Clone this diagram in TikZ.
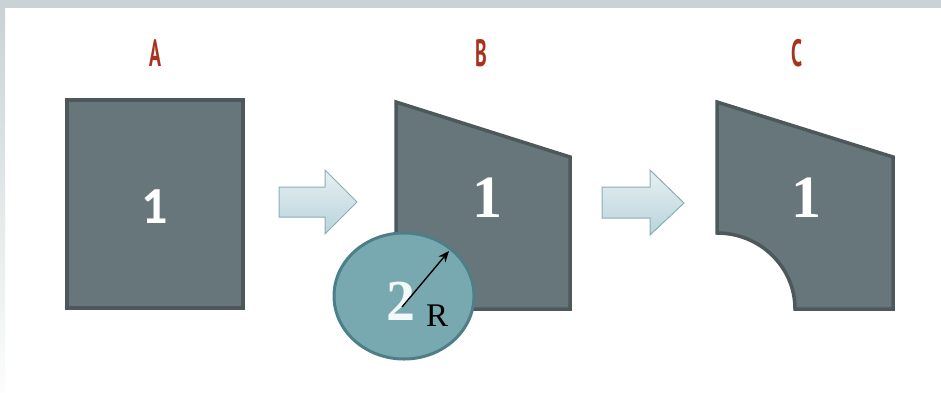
\documentclass[tikz,border=0pt]{standalone}
\usepackage{fontspec}
\setmainfont{Liberation Serif}
\newfontfamily\labfont{PT Sans}
\newfontfamily\numsans{Carlito}
\usetikzlibrary{shapes.geometric,arrows.meta}
\definecolor{bandgrey}{HTML}{C9D3D5}
\definecolor{labred}{HTML}{A8321E}
\definecolor{partfill}{HTML}{67767A}
\definecolor{partline}{HTML}{4D585B}
\definecolor{toolfill}{HTML}{79A9B0}
\definecolor{toolline}{HTML}{4E7E86}
\definecolor{arrtop}{HTML}{E6F0F3}
\definecolor{arrbot}{HTML}{B9D3DB}
\definecolor{arrline}{HTML}{8DADB5}
\tikzset{
  part/.style={fill=partfill, draw=partline, line width=3.5pt, line join=miter},
  tool/.style={ellipse, fill=toolfill, draw=toolline, line width=3pt, minimum width=140pt, minimum height=126pt, inner sep=0pt},
  blockarrow/.style={top color=arrtop, bottom color=arrbot, draw=arrline, line width=1pt},
  steplabel/.style={text=labred, font=\labfont\bfseries\fontsize{38}{38}\selectfont, xscale=0.52, inner sep=0pt},
  numlab/.style={text=white, inner sep=0pt},
}
\begin{document}
\begin{tikzpicture}[x=1pt,y=-1pt]
\useasboundingbox (0,0) rectangle (941,392);
\fill[white] (0,0) rectangle (941,392);
\fill[bandgrey] (0,0) rectangle (941,8);
\shade[top color=bandgrey, bottom color=white!95!bandgrey] (0,8) rectangle (5,392);

% labels
\node[steplabel] (la) at (155,53) {A};
\node[steplabel] (lb) at (481,53) {B};
\node[steplabel] (lc) at (797,53) {C};

% part A
\draw[part] (67,100) rectangle (243,308);
\node[numlab, font=\numsans\bfseries\fontsize{52}{52}\selectfont] (na) at (155,207) {1};

% arrow 1
\draw[blockarrow] (279,187) -- (325,187) -- (325,170) -- (357,202) -- (325,234) -- (325,217) -- (279,217) -- cycle;

% part B
\draw[part] (396,102) -- (570,157) -- (570,309) -- (396,309) -- cycle;
\node[numlab, font=\bfseries\fontsize{60}{60}\selectfont] (nb) at (487,198) {1};

% tool circle
\node[tool] (tool) at (404,296) {};
\node[text=white!92!toolfill, font=\bfseries\fontsize{58}{58}\selectfont, inner sep=0pt] (two) at (401,301) {2};
\node[text=black, font=\fontsize{33}{33}\selectfont, inner sep=0pt] (rr) at (437,316) {R};
\coordinate (rs) at (402,307);
\coordinate (re) at (449,251);
\draw[black, line width=1.4pt, -{Stealth[length=11pt,width=9pt]}] (rs) -- (re);

% arrow 2
\draw[blockarrow] (602,187) -- (650,187) -- (650,170) -- (684,203) -- (650,235) -- (650,218) -- (602,218) -- cycle;

% part C
\draw[part] (717,102) -- (893,157) -- (893,309) -- (795,309) arc[start angle=0, end angle=90, x radius=78, y radius=-76] -- cycle;
\node[numlab, font=\bfseries\fontsize{60}{60}\selectfont] (nc) at (806,198) {1};
\end{tikzpicture}
\end{document}
